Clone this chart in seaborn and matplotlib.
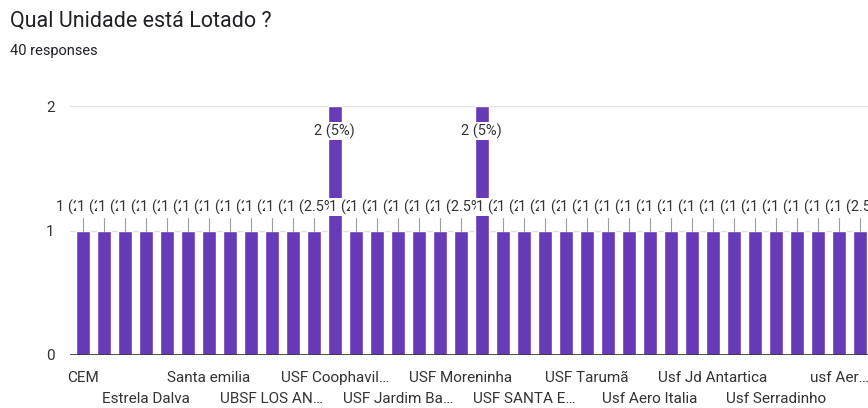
import matplotlib
matplotlib.use("Agg")
import matplotlib.pyplot as plt
import seaborn as sns
import pandas as pd

# ---- data ----
categories = [
    "CEM", "Unidade 02", "Unidade 03", "Estrela Dalva", "Unidade 05", "Unidade 06",
    "Santa emilia", "Unidade 08", "Unidade 09", "UBSF LOS AN…", "Unidade 11", "Unidade 12",
    "USF Coophavil…", "Unidade 14", "Unidade 15", "USF Jardim Ba…", "Unidade 17", "Unidade 18",
    "USF Moreninha", "Unidade 20", "Unidade 21", "USF SANTA E…", "Unidade 23", "Unidade 24",
    "USF Tarumã", "Unidade 26", "Unidade 27", "Usf Aero Italia", "Unidade 29", "Unidade 30",
    "Usf Jd Antartica", "Unidade 32", "Unidade 33", "Usf Serradinho", "Unidade 35", "Unidade 36",
    "usf Aer…", "Unidade 38",
]
counts = [1] * 38
counts[12] = 2
counts[19] = 2
percent_labels = ["1 (2.5%)" if c == 1 else "2 (5%)" for c in counts]
shown_tick_labels = [categories[i] if i % 3 == 0 else "" for i in range(len(categories))]

df = pd.DataFrame({"categoria": categories, "respostas": counts})

sns.set_theme(style="white")
plt.rcParams['font.family'] = ['Roboto', 'DejaVu Sans']

W, H = 868, 408
fig = plt.figure(figsize=(W / 100, H / 100), dpi=100)
ax = fig.add_axes([70 / W, 53 / H, (W - 70) / W, 249 / H])

sns.barplot(data=df, x="categoria", y="respostas", color="#673ab7", saturation=1,
            width=0.67, ax=ax, zorder=2)

ax.set_xlim(-0.6, 37.38)
ax.set_ylim(0, 2)
for s in ax.spines.values():
    s.set_visible(False)
ax.set_xlabel("")
ax.set_ylabel("")
ax.set_yticks([0, 1, 2])
ax.set_yticklabels(["0", "1", "2"])
ax.yaxis.grid(True, color="#e0e0e0", linewidth=1, zorder=0)
ax.set_axisbelow(True)
ax.axhline(0, color="#333333", linewidth=1.2, zorder=3)
ax.tick_params(axis="y", length=0, pad=11, labelsize=11, labelcolor="#333333")

# x tick labels: every third, alternating rows
ax.set_xticks(range(len(categories)))
labels = []
k = 0
for i, lab in enumerate(shown_tick_labels):
    if lab:
        labels.append(lab if k % 2 == 0 else "\n" + lab)
        k += 1
    else:
        labels.append("")
ax.set_xticklabels(labels)
ax.tick_params(axis="x", length=0, pad=11.5, labelsize=11, labelcolor="#333333")
for t in ax.get_xticklabels():
    t.set_linespacing(1.6)

# value labels
px = 249 / 2.0  # pixels per unit
for i, (c, lab) in enumerate(zip(counts, percent_labels)):
    if c == 1:
        y = (355 - 207) / px
        ax.plot([i, i], [1.0, (355 - 218) / px], color="#9e9e9e", linewidth=0.8, zorder=3)
    else:
        y = (355 - 131) / px
    ax.text(i, y, lab, ha="center", va="center", fontsize=10.5, color="#333333",
            zorder=10 + i, clip_on=False,
            bbox=dict(facecolor="white", edgecolor="none", pad=0.6))

fig.text(10 / W, 1 - 21 / H, "Qual Unidade está Lotado ?", fontsize=15.5,
         color="#202124", va="center", ha="left")
fig.text(10 / W, 1 - 51 / H, "40 responses", fontsize=10.5,
         color="#202124", va="center", ha="left")

fig.savefig("out.png", dpi=100)
